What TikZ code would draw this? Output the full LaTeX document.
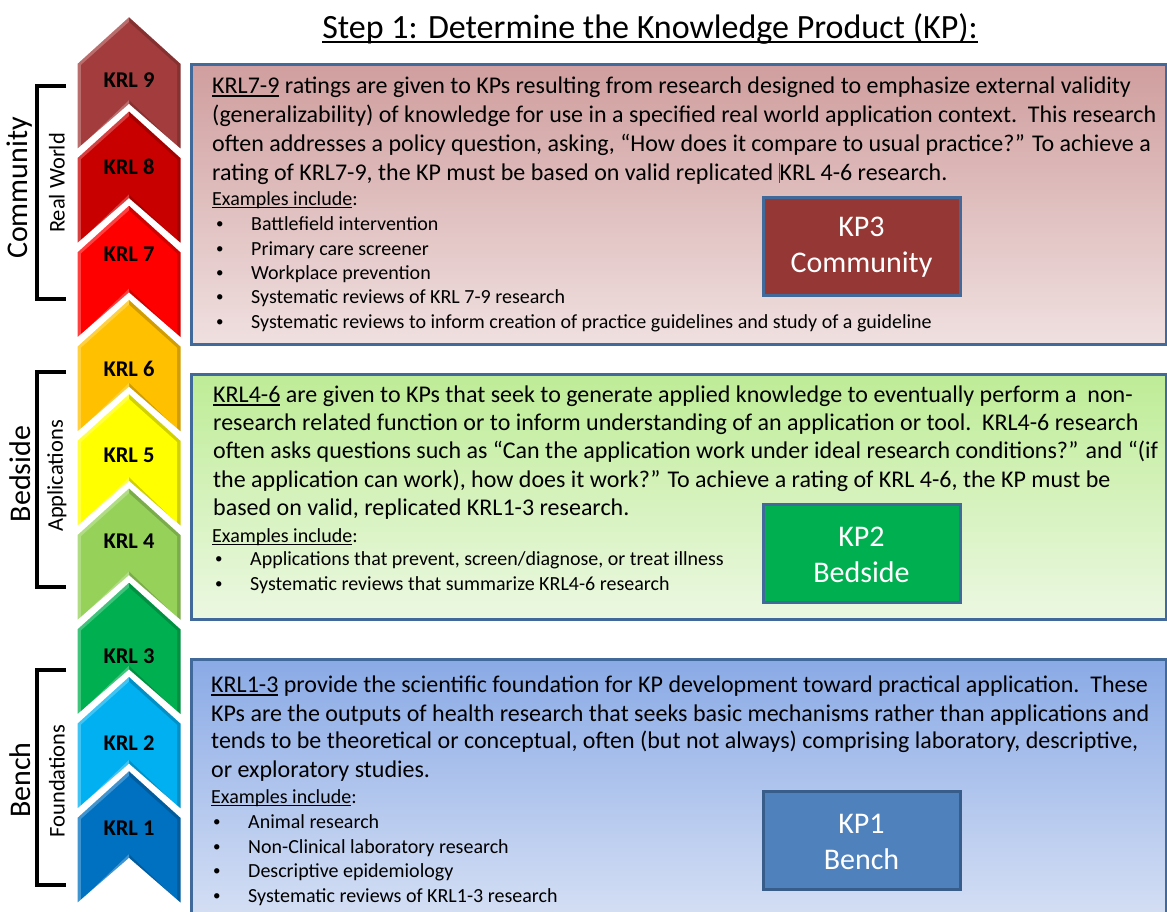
\documentclass[tikz,border=0pt]{standalone}
\usepackage{fontspec}
\setmainfont{Carlito}
\definecolor{k9}{HTML}{A33C3C}
\definecolor{k8}{HTML}{C80000}
\definecolor{k7}{HTML}{FF0000}
\definecolor{k6}{HTML}{FFC000}
\definecolor{k5}{HTML}{FFFF00}
\definecolor{k4}{HTML}{96D25A}
\definecolor{k3}{HTML}{00B050}
\definecolor{k2}{HTML}{00B0F0}
\definecolor{k1}{HTML}{0070C0}
\definecolor{panelborder}{HTML}{41699A}
\definecolor{kpthree}{HTML}{953735}
\definecolor{kptwo}{HTML}{00B050}
\definecolor{kpone}{HTML}{4F81BD}
\definecolor{kponeborder}{HTML}{385D8A}
\definecolor{pinktop}{RGB}{208,158,158}
\definecolor{pinkbot}{RGB}{240,224,224}
\definecolor{greentop}{RGB}{190,236,150}
\definecolor{greenbot}{RGB}{236,248,226}
\definecolor{bluetop}{RGB}{138,170,230}
\definecolor{bluebot}{RGB}{214,224,244}
\newcommand\myul[1]{\setbox0\hbox{#1}\rlap{\vrule height -0.10em depth 0.16em width\wd0}\box0\relax}
\tikzset{
  panel/.style={draw=panelborder, line width=3pt, minimum width=975pt, anchor=north west, inner sep=0pt},
  body/.style={anchor=base west, inner sep=0pt, font=\fontsize{24}{29}\selectfont},
  small/.style={anchor=base west, inner sep=0pt, font=\fontsize{20}{24}\selectfont},
  kpbox/.style={draw=panelborder, line width=3pt, minimum width=197pt, minimum height=98pt, align=center, text=white, font=\fontsize{30}{36}\selectfont, inner sep=0pt},
  krl/.style={font=\bfseries\fontsize{22.5}{26}\selectfont, inner sep=0pt},
  biglab/.style={rotate=90, font=\fontsize{30}{36}\selectfont, inner sep=0pt},
  sublab/.style={rotate=90, font=\fontsize{22.5}{27}\selectfont, inner sep=0pt},
  bracket/.style={line width=4.5pt}
}
\newcommand\bl[1]{\makebox[35pt][l]{\raisebox{1.5pt}{\fontsize{15}{15}\selectfont •}}#1}
\begin{document}
\begin{tikzpicture}[x=1pt,y=-1pt]
\useasboundingbox (0,0) rectangle (1167,911);
% chevrons
\foreach \i/\c in {9/k9,8/k8,7/k7,6/k6,5/k5,4/k4,3/k3,2/k2,1/k1}{
  \pgfmathsetmacro\s{63+(9-\i)*94.25}
  \fill[\c!82!black] (76,\s) -- (129,\s-48) -- (182,\s) -- (182,\s+89) -- (129,\s+43) -- (76,\s+89) -- cycle;
  \fill[\c!75!white] (76,\s) -- (129,\s-48) -- (129,\s+43) -- (76,\s+89) -- cycle;
  \fill[\c] (81,\s+2) -- (129,\s-41) -- (177,\s+2) -- (177,\s+83) -- (129,\s+37) -- (81,\s+83) -- cycle;
  \draw[white, line width=3pt] (76,\s) -- (129,\s-48) -- (182,\s) -- (182,\s+89) -- (129,\s+43) -- (76,\s+89) -- cycle;
}
\node[krl] (krl9) at (129,80) {KRL 9};
\node[krl] (krl8) at (129,167) {KRL 8};
\node[krl] (krl7) at (129,254) {KRL 7};
\node[krl] (krl6) at (129,369) {KRL 6};
\node[krl] (krl5) at (129,455) {KRL 5};
\node[krl] (krl4) at (129,541) {KRL 4};
\node[krl] (krl3) at (129,656) {KRL 3};
\node[krl] (krl2) at (129,743) {KRL 2};
\node[krl] (krl1) at (129,828) {KRL 1};
% brackets
\draw[bracket] (66,86) -- (37,86) -- (37,299) -- (66,299);
\draw[bracket] (66,372) -- (37,372) -- (37,587) -- (66,587);
\draw[bracket] (66,670) -- (37,670) -- (37,885) -- (66,885);
\node[biglab] (lcomm) at (20,188) {Community};
\node[sublab] (lreal) at (57,183) {Real World};
\node[biglab] (lbed) at (20,474) {Bedside};
\node[sublab] (lapp) at (57,476) {Applications};
\node[biglab] (lbench) at (20,780) {Bench};
\node[sublab] (lfound) at (57,781) {Foundations};
% title
\node[anchor=base, inner sep=0pt, font=\fontsize{34}{40}\selectfont] (title) at (650,38) {\myul{Step 1: Determine the Knowledge Product (KP):}};
% panels
\node[panel, minimum height=280pt, top color=pinktop, bottom color=pinkbot] (p3) at (190,63) {};
\node[panel, minimum height=245pt, top color=greentop, bottom color=greenbot] (p2) at (190,373) {};
\node[panel, minimum height=262pt, top color=bluetop, bottom color=bluebot] (p1) at (190,658) {};
% panel 3 text
\node[body] (a1) at (212,93) {\myul{KRL7-9} ratings are given to KPs resulting from research designed to emphasize external validity};
\node[body] (a2) at (212,122) {(generalizability) of knowledge for use in a specified real world application context.\ \ This research};
\node[body] (a3) at (212,151) {often addresses a policy question, asking, “How does it compare to usual practice?” To achieve a};
\node[body] (a4) at (212,180) {rating of KRL7-9, the KP must be based on valid replicated {\color{black!70}\vrule height 0.72em depth 0.12em width 1pt}KRL 4-6 research.};
\node[small] (a5) at (212,205) {\myul{Examples include}:};
\node[small] (a6) at (216,230) {\bl{Battlefield intervention}};
\node[small] (a7) at (216,255) {\bl{Primary care screener}};
\node[small] (a8) at (216,279) {\bl{Workplace prevention}};
\node[small] (a9) at (216,303) {\bl{Systematic reviews of KRL 7-9 research}};
\node[small] (a10) at (216,328) {\bl{Systematic reviews to inform creation of practice guidelines and study of a guideline}};
% panel 2 text
\node[body] (b1) at (213,402) {\myul{KRL4-6} are given to KPs that seek to generate applied knowledge to eventually perform a\ \ non-};
\node[body] (b2) at (213,430) {research related function or to inform understanding of an application or tool.\ \ KRL4-6 research};
\node[body] (b3) at (213,458) {often asks questions such as “Can the application work under ideal research conditions?” and “(if};
\node[body] (b4) at (213,487) {the application can work), how does it work?” To achieve a rating of KRL 4-6, the KP must be};
\node[body] (b5) at (213,515) {based on valid, replicated KRL1-3 research.};
\node[small] (b6) at (212,542) {\myul{Examples include}:};
\node[small] (b7) at (215,565) {\bl{Applications that prevent, screen/diagnose, or treat illness}};
\node[small] (b8) at (215,590) {\bl{Systematic reviews that summarize KRL4-6 research}};
% panel 1 text
\node[body] (c1) at (211,692) {\myul{KRL1-3} provide the scientific foundation for KP development toward practical application.\ \ These};
\node[body] (c2) at (211,721) {KPs are the outputs of health research that seeks basic mechanisms rather than applications and};
\node[body] (c3) at (211,748) {tends to be theoretical or conceptual, often (but not always) comprising laboratory, descriptive,};
\node[body] (c4) at (211,777) {or exploratory studies.};
\node[small] (c5) at (211,803) {\myul{Examples include}:};
\node[small] (c6) at (213,828) {\bl{Animal research}};
\node[small] (c7) at (213,853) {\bl{Non-Clinical laboratory research}};
\node[small] (c8) at (213,877) {\bl{Descriptive epidemiology}};
\node[small] (c9) at (213,902) {\bl{Systematic reviews of KRL1-3 research}};
% KP boxes
\node[kpbox, fill=kpthree] (kp3) at (861.5,246) {\rule{0pt}{22pt}KP3\\[0pt]Community};
\node[kpbox, fill=kptwo] (kp2) at (861.5,553.5) {\rule{0pt}{22pt}KP2\\[0pt]Bedside};
\node[kpbox, fill=kpone, draw=kponeborder] (kp1) at (861.5,840.5) {\rule{0pt}{22pt}KP1\\[0pt]Bench};
\end{tikzpicture}
\end{document}
